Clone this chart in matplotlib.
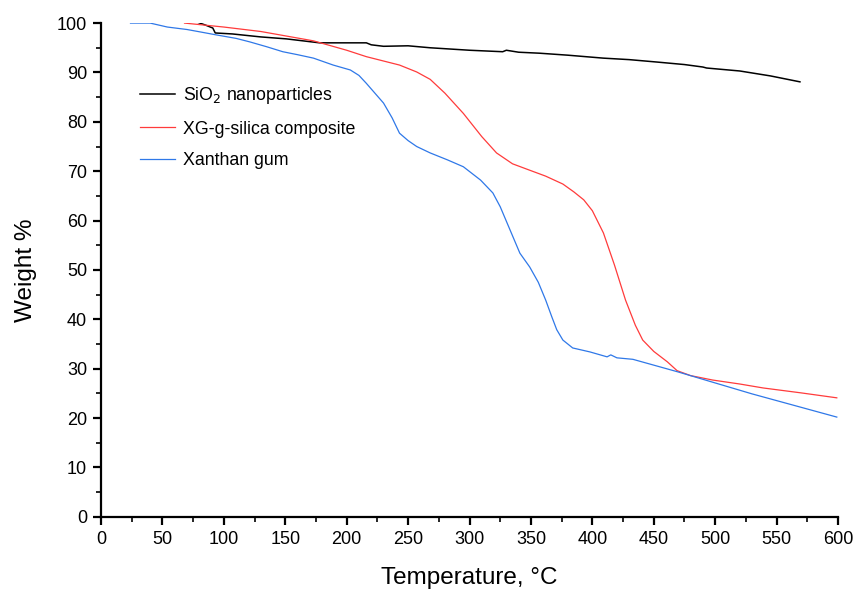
import matplotlib
matplotlib.use("Agg")
import matplotlib.pyplot as plt
from matplotlib.ticker import MultipleLocator

plt.rcParams['font.family'] = ['Liberation Sans', 'DejaVu Sans']

# SiO2 nanoparticles
sio2_t = [76, 85, 91, 93, 107, 130, 151, 178, 200, 216, 220, 230, 250, 268, 300, 327, 330, 340, 357, 380, 409, 430, 453, 475, 490, 493, 520, 545, 569]
sio2_w = [100.4, 99.6, 99.0, 98.0, 97.8, 97.2, 96.8, 96.0, 96.0, 96.0, 95.6, 95.3, 95.4, 95.0, 94.5, 94.2, 94.5, 94.1, 93.9, 93.5, 92.9, 92.6, 92.1, 91.6, 91.1, 90.9, 90.3, 89.3, 88.1]

# XG-g-silica composite
comp_t = [68, 100, 130, 173, 200, 216, 243, 257, 268, 280, 295, 310, 322, 335, 349, 362, 376, 385, 393, 400, 409, 418, 427, 435, 441, 450, 461, 469, 480, 498, 520, 539, 570, 599]
comp_w = [100.0, 99.2, 98.3, 96.4, 94.5, 93.2, 91.5, 90.1, 88.6, 85.8, 81.7, 77.0, 73.7, 71.5, 70.2, 69.0, 67.4, 65.8, 64.2, 62.0, 57.5, 51.0, 43.9, 38.8, 35.8, 33.5, 31.4, 29.6, 28.6, 27.7, 26.9, 26.1, 25.1, 24.1]

# Xanthan gum
xg_t = [24, 40, 54, 70, 81, 94, 110, 121, 135, 148, 160, 173, 189, 203, 210, 216, 223, 230, 237, 243, 250, 257, 268, 282, 295, 309, 319, 325, 333, 341, 349, 356, 362, 367, 371, 376, 384, 398, 412, 415, 420, 433, 469, 530, 599]
xg_w = [100.0, 100.0, 99.2, 98.7, 98.2, 97.6, 96.9, 96.2, 95.2, 94.2, 93.6, 92.9, 91.5, 90.5, 89.4, 87.8, 85.8, 83.8, 80.8, 77.7, 76.2, 75.0, 73.7, 72.3, 70.9, 68.2, 65.6, 62.8, 58.1, 53.4, 50.6, 47.5, 43.9, 40.5, 37.9, 35.8, 34.2, 33.4, 32.4, 32.8, 32.2, 31.9, 29.4, 24.9, 20.2]

fig = plt.figure(figsize=(8.56, 5.92), dpi=100)
ax = fig.add_axes([0.118, 0.127, 0.861, 0.834])

ax.plot(sio2_t, sio2_w, color='black', lw=1.1, label='SiO$_2$ nanoparticles')
ax.plot(comp_t, comp_w, color='#ff3b3b', lw=0.9, label='XG-g-silica composite')
ax.plot(xg_t, xg_w, color='#2f78e8', lw=0.9, label='Xanthan gum')

ax.set_xlim(0, 600)
ax.set_ylim(0, 100)
ax.xaxis.set_major_locator(MultipleLocator(50))
ax.xaxis.set_minor_locator(MultipleLocator(25))
ax.yaxis.set_major_locator(MultipleLocator(10))
ax.yaxis.set_minor_locator(MultipleLocator(5))

for s in ['top', 'right']:
    ax.spines[s].set_visible(False)
for s in ['left', 'bottom']:
    ax.spines[s].set_linewidth(1.6)

ax.tick_params(which='major', direction='out', length=6, width=1.6, labelsize=13, pad=4)
ax.tick_params(which='minor', direction='out', length=3.5, width=1.2)

ax.set_xlabel('Temperature, \u00b0C', fontsize=17.5, labelpad=14)
ax.set_ylabel('Weight %', fontsize=17.5, labelpad=14)

ax.legend(loc='upper left', bbox_to_anchor=(0.031, 0.907), frameon=False, fontsize=12.8,
          handlelength=2.0, handletextpad=0.4, labelspacing=0.82)

fig.savefig('out.png', dpi=100)
